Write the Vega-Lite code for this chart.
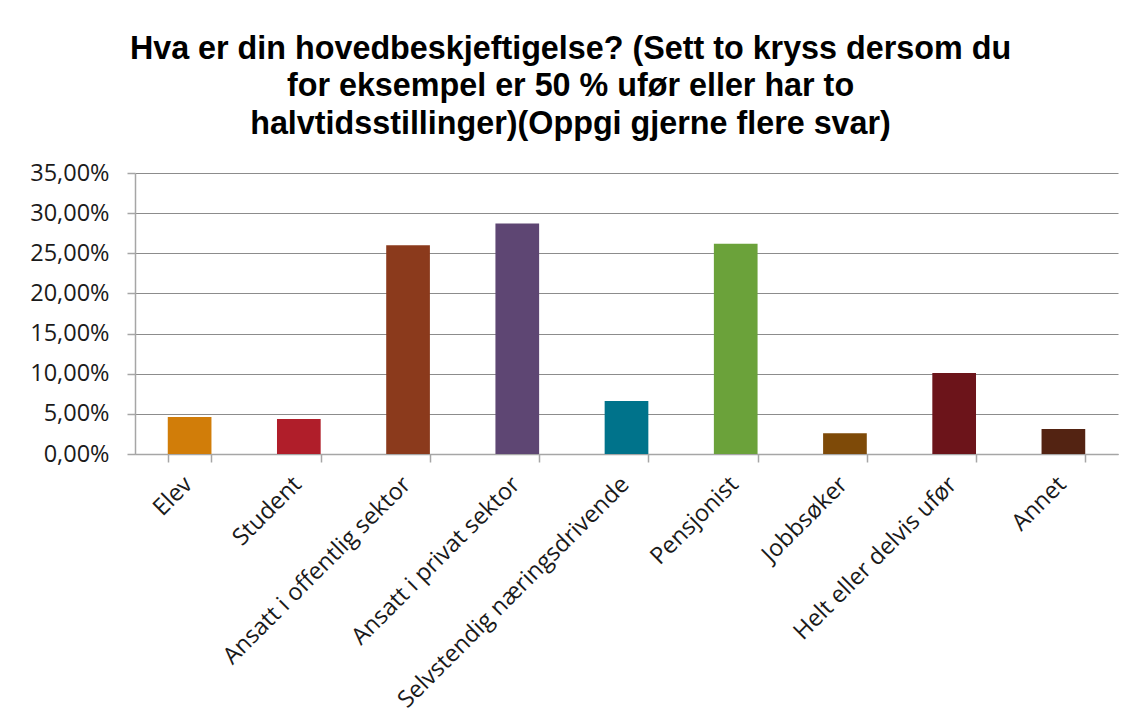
{
  "$schema": "https://vega.github.io/schema/vega-lite/v6.json",
  "width": 983,
  "height": 281,
  "autosize": {"type": "none"},
  "padding": {"left": 135, "top": 173, "right": 15, "bottom": 272},
  "background": "white",
  "config": {
    "locale": {"number": {"decimal": ",", "thousands": " ", "grouping": [3], "currency": ["", " kr"]}},
    "view": {"stroke": null}
  },
  "title": {
    "text": ["Hva er din hovedbeskjeftigelse? (Sett to kryss dersom du", "for eksempel er 50 % ufør eller har to", "halvtidsstillinger)(Oppgi gjerne flere svar)"],
    "font": "Liberation Sans",
    "fontSize": 32.3,
    "fontWeight": "bold",
    "color": "#000000",
    "lineHeight": 37.5,
    "anchor": "middle",
    "dx": -56,
    "offset": 21
  },
  "data": {
    "values": [
      {"kategori": "Elev", "andel": 0.046},
      {"kategori": "Student", "andel": 0.0435},
      {"kategori": "Ansatt i offentlig sektor", "andel": 0.26},
      {"kategori": "Ansatt i privat sektor", "andel": 0.287},
      {"kategori": "Selvstendig næringsdrivende", "andel": 0.066},
      {"kategori": "Pensjonist", "andel": 0.262},
      {"kategori": "Jobbsøker", "andel": 0.026},
      {"kategori": "Helt eller delvis ufør", "andel": 0.101},
      {"kategori": "Annet", "andel": 0.031}
    ]
  },
  "mark": {"type": "bar"},
  "encoding": {
    "x": {
      "field": "kategori",
      "type": "nominal",
      "sort": null,
      "scale": {"paddingInner": 0.6, "paddingOuter": 0.3},
      "axis": {
        "title": null,
        "labelAngle": -45,
        "labelFont": "Open Sans",
        "labelFontSize": 23.5,
        "labelColor": "#1a1a1a",
        "labelPadding": 10,
        "labelOffset": -10,
        "labelLimit": 400,
        "tickBand": "extent",
        "tickSize": 8,
        "tickColor": "#a6a6a6",
        "tickWidth": 1.5,
        "domainColor": "#a6a6a6",
        "domainWidth": 1.5,
        "grid": false
      }
    },
    "y": {
      "field": "andel",
      "type": "quantitative",
      "scale": {"domain": [0, 0.35], "nice": false},
      "axis": {
        "title": null,
        "format": ".2%",
        "values": [0, 0.05, 0.1, 0.15, 0.2, 0.25, 0.3, 0.35],
        "labelFont": "Open Sans",
        "labelFontSize": 23.5,
        "labelColor": "#1a1a1a",
        "labelPadding": 18,
        "tickSize": 8,
        "tickColor": "#a6a6a6",
        "tickWidth": 1.5,
        "domainColor": "#a6a6a6",
        "domainWidth": 1.5,
        "grid": true,
        "gridColor": "#8c8c8c",
        "gridWidth": 1.2
      }
    },
    "color": {
      "field": "kategori",
      "type": "nominal",
      "legend": null,
      "scale": {
        "domain": ["Elev", "Student", "Ansatt i offentlig sektor", "Ansatt i privat sektor", "Selvstendig næringsdrivende", "Pensjonist", "Jobbsøker", "Helt eller delvis ufør", "Annet"],
        "range": ["#D17D09", "#B01E2A", "#8B3A1C", "#5E4673", "#00738B", "#6BA23A", "#7E4A08", "#6C141A", "#532312"]
      }
    }
  }
}
